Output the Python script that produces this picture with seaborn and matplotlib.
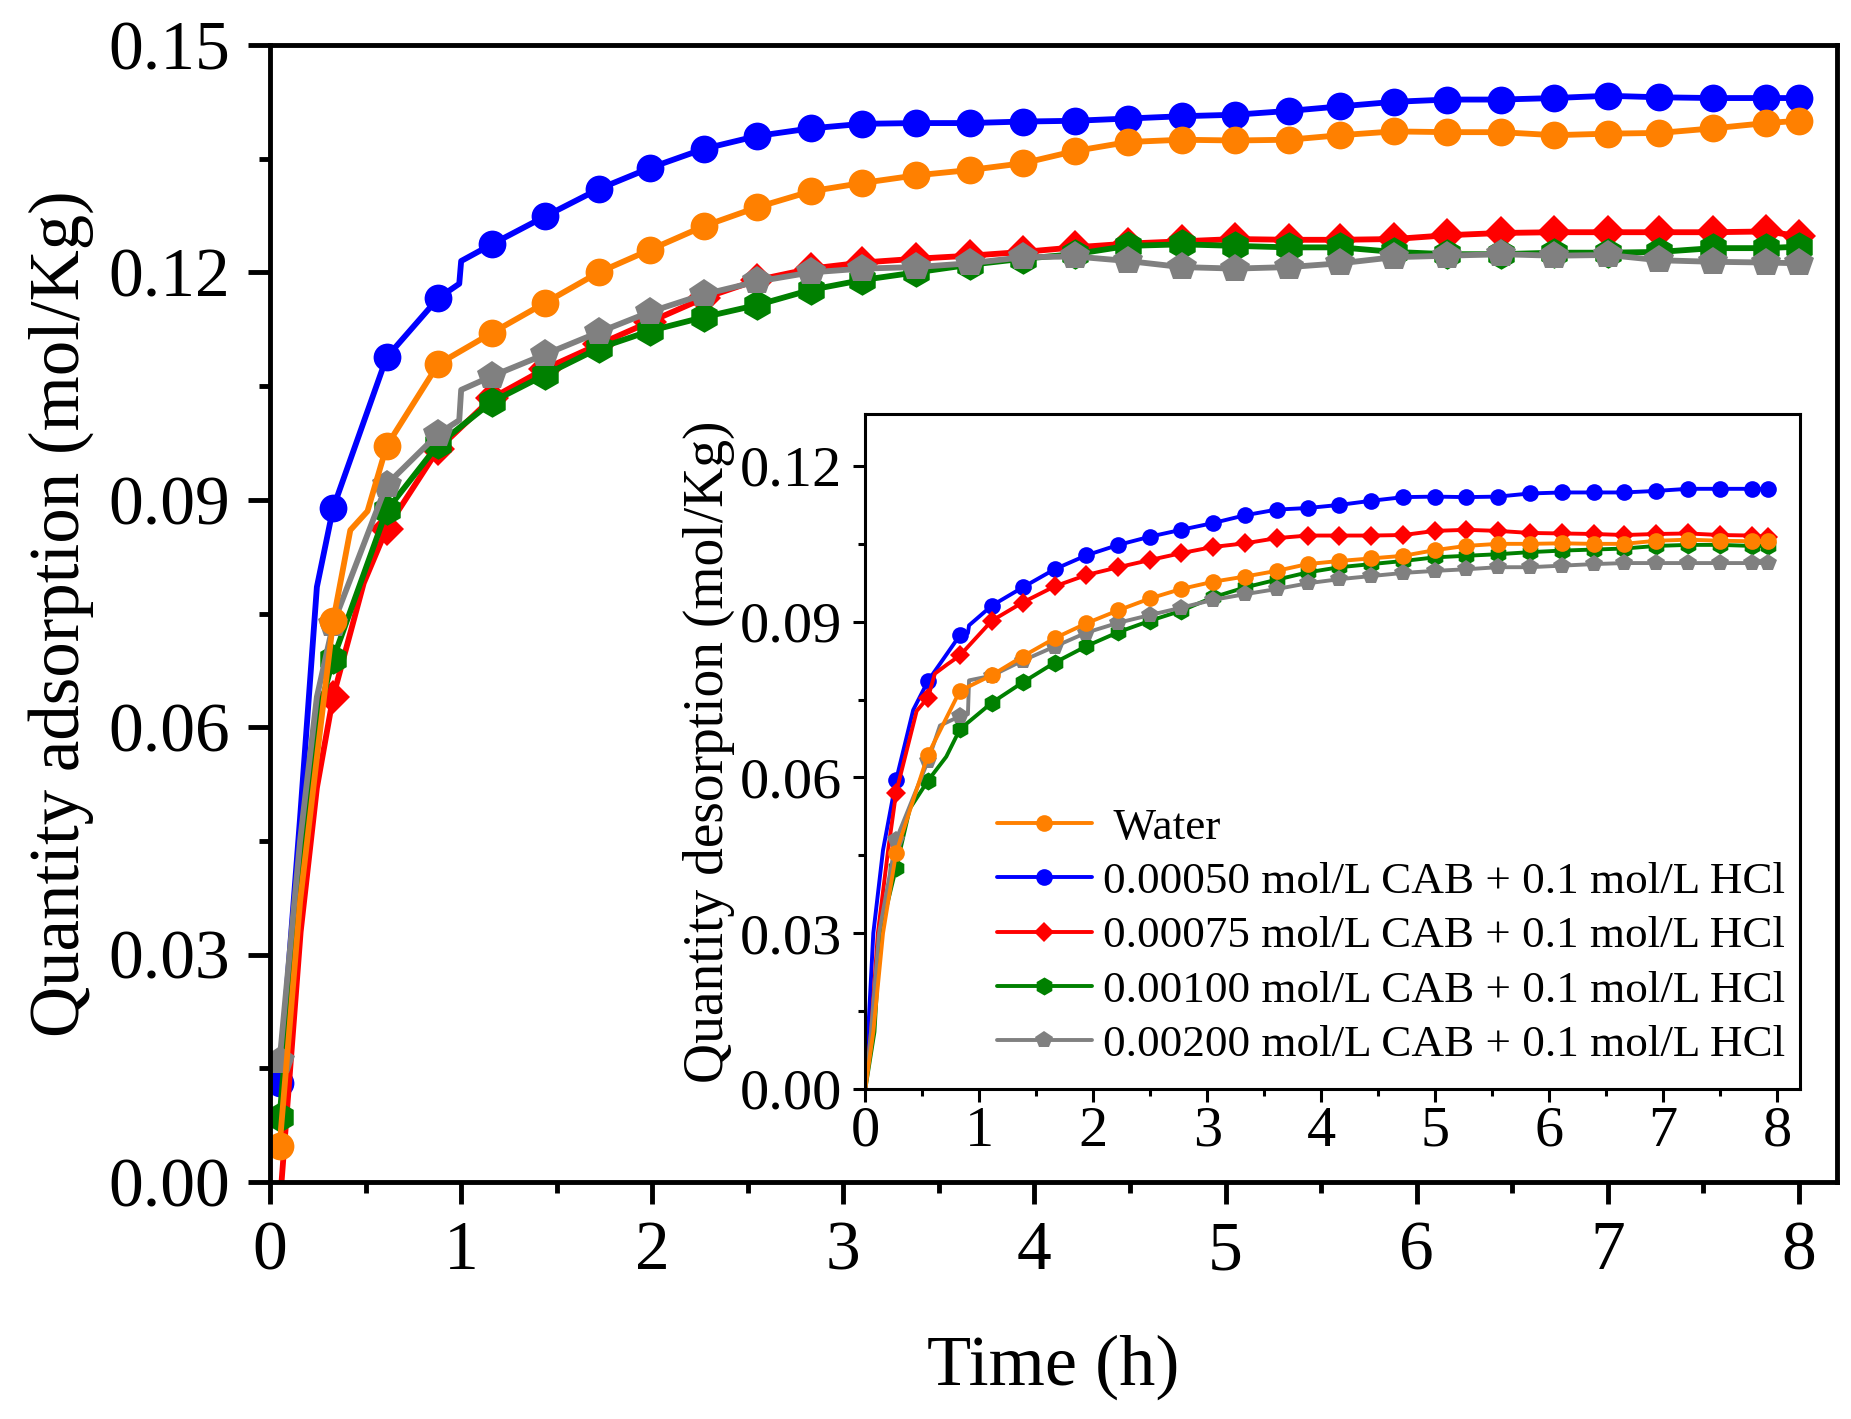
import matplotlib
matplotlib.use("Agg")
import matplotlib.pyplot as plt
from matplotlib.ticker import MultipleLocator, FormatStrFormatter
import seaborn as sns

sns.set_theme(style="ticks")
plt.rcParams['font.family'] = ['Liberation Serif', 'DejaVu Serif']
plt.rcParams['text.color'] = 'black'
plt.rcParams['axes.labelcolor'] = 'black'
plt.rcParams['xtick.color'] = 'black'
plt.rcParams['ytick.color'] = 'black'

# series names (legend order)
labels = [" Water",
          "0.00050 mol/L CAB + 0.1 mol/L HCl",
          "0.00075 mol/L CAB + 0.1 mol/L HCl",
          "0.00100 mol/L CAB + 0.1 mol/L HCl",
          "0.00200 mol/L CAB + 0.1 mol/L HCl"]

# ---- main plot: adsorption (marked points) ----
t_ads = [0.05, 0.33, 0.61, 0.88, 1.16, 1.44, 1.72, 1.99, 2.27, 2.55, 2.83, 3.10, 3.38, 3.66, 3.94,
         4.21, 4.49, 4.77, 5.05, 5.33, 5.60, 5.88, 6.16, 6.44, 6.72, 7.00, 7.27, 7.55, 7.83, 8.00]
ads_water = [0.0048, 0.074, 0.0971, 0.1079, 0.112, 0.116, 0.120, 0.123, 0.1261, 0.1286, 0.1307, 0.1318,
             0.1328, 0.1335, 0.1344, 0.136, 0.1372, 0.1375, 0.1374, 0.1375, 0.1381, 0.1386, 0.1385,
             0.1385, 0.1381, 0.1383, 0.1384, 0.139, 0.1397, 0.140]
ads_050 = [0.013, 0.0889, 0.1088, 0.1166, 0.1237, 0.1274, 0.131, 0.1338, 0.1363, 0.138, 0.139, 0.1396,
           0.1397, 0.1397, 0.1399, 0.140, 0.1403, 0.1406, 0.1408, 0.1413, 0.1419, 0.1425, 0.1428,
           0.1428, 0.143, 0.1433, 0.1431, 0.143, 0.143, 0.143]
ads_075 = [-0.003, 0.064, 0.0862, 0.0967, 0.1034, 0.1073, 0.1105, 0.1135, 0.1166, 0.119, 0.1205, 0.1213,
           0.1218, 0.1222, 0.1227, 0.1233, 0.1238, 0.1241, 0.1244, 0.1243, 0.1243, 0.1244, 0.1249,
           0.1252, 0.1253, 0.1253, 0.1253, 0.1253, 0.1254, 0.1248]
ads_100 = [0.0086, 0.069, 0.0886, 0.0973, 0.1029, 0.1065, 0.11, 0.1123, 0.1141, 0.1157, 0.1177, 0.119,
           0.12, 0.121, 0.1218, 0.1224, 0.1235, 0.1237, 0.1235, 0.1233, 0.1233, 0.1227, 0.1224,
           0.1224, 0.1226, 0.1226, 0.1227, 0.1232, 0.1232, 0.1234]
ads_200 = [0.016, 0.0736, 0.092, 0.0987, 0.1063, 0.1092, 0.1121, 0.1148, 0.1171, 0.1188, 0.12, 0.1205,
           0.1207, 0.1212, 0.122, 0.1221, 0.1215, 0.1207, 0.1205, 0.1207, 0.1212, 0.122, 0.1222,
           0.1224, 0.1222, 0.1223, 0.1216, 0.1214, 0.1213, 0.1212]

# unmarked line points between markers (main)
ads_water_xt = [0.157, 0.245, 0.42, 0.51]
ads_water_xq = [0.037, 0.056, 0.086, 0.0885]
ads_050_xt = [0.157, 0.245, 0.99, 1.0]
ads_050_xq = [0.048, 0.0785, 0.1185, 0.1215]
ads_075_xt = [0.06, 0.16, 0.245, 0.49]
ads_075_xq = [0.0, 0.033, 0.052, 0.079]
ads_100_xt = [0.157, 0.245]
ads_100_xq = [0.040, 0.061]
ads_200_xt = [0.157, 0.245, 0.99, 1.0]
ads_200_xq = [0.045, 0.064, 0.1005, 0.1045]

# ---- inset: desorption (marked points) ----
t_des = [0.27, 0.55, 0.83, 1.11, 1.38, 1.66, 1.94, 2.22, 2.50, 2.77, 3.05, 3.33, 3.61, 3.88, 4.16,
         4.44, 4.72, 5.00, 5.27, 5.55, 5.83, 6.11, 6.39, 6.66, 6.94, 7.22, 7.50, 7.78, 7.92]
des_water = [0.0455, 0.0644, 0.0767, 0.0797, 0.0833, 0.0868, 0.0897, 0.0922, 0.0945, 0.0963, 0.0977,
             0.0987, 0.0998, 0.1011, 0.1017, 0.1022, 0.1027, 0.1038, 0.1046, 0.105, 0.105, 0.1051,
             0.105, 0.105, 0.1056, 0.1058, 0.1056, 0.1055, 0.1055]
des_050 = [0.0595, 0.0786, 0.0874, 0.0931, 0.0966, 0.1001, 0.1028, 0.1048, 0.1064, 0.1077, 0.109,
           0.1105, 0.1116, 0.1119, 0.1125, 0.1133, 0.114, 0.1141, 0.114, 0.1141, 0.1147, 0.1149,
           0.1149, 0.1149, 0.1152, 0.1156, 0.1156, 0.1156, 0.1156]
des_075 = [0.0571, 0.0754, 0.0835, 0.0902, 0.0937, 0.0968, 0.099, 0.1005, 0.1019, 0.1032, 0.1044,
           0.1051, 0.1061, 0.1066, 0.1066, 0.1066, 0.1067, 0.1075, 0.1077, 0.1075, 0.1071, 0.107,
           0.1069, 0.1067, 0.1069, 0.107, 0.1067, 0.1066, 0.1063]
des_100 = [0.0426, 0.0594, 0.0693, 0.0744, 0.0783, 0.0821, 0.0853, 0.088, 0.0902, 0.0921, 0.0947,
           0.0966, 0.0981, 0.0995, 0.1005, 0.1011, 0.1017, 0.1024, 0.1027, 0.103, 0.1034, 0.1037,
           0.1039, 0.1041, 0.1046, 0.1048, 0.1048, 0.1046, 0.1046]
des_200 = [0.048, 0.0632, 0.0718, 0.0796, 0.0825, 0.0852, 0.0879, 0.0898, 0.0913, 0.0927, 0.0942,
           0.0953, 0.0963, 0.0974, 0.0982, 0.0988, 0.0994, 0.0998, 0.1001, 0.1005, 0.1005, 0.1008,
           0.1011, 0.1013, 0.1013, 0.1013, 0.1013, 0.1013, 0.1013]

# unmarked line points (inset)
des_water_xt = [0.0, 0.07, 0.155]
des_water_xq = [0.0, 0.011, 0.030]
des_050_xt = [0.0, 0.025, 0.07, 0.155, 0.42, 0.90, 0.91]
des_050_xq = [0.0, 0.011, 0.030, 0.046, 0.073, 0.0878, 0.0893]
des_075_xt = [0.0, 0.05, 0.11, 0.2, 0.45, 0.61, 0.72]
des_075_xq = [0.0, 0.011, 0.030, 0.046, 0.0728, 0.080, 0.0818]
des_100_xt = [0.0, 0.08, 0.13, 0.39, 0.71]
des_100_xq = [0.0, 0.011, 0.030, 0.054, 0.064]
des_200_xt = [0.0, 0.05, 0.12, 0.655, 0.90, 0.91]
des_200_xq = [0.0, 0.011, 0.030, 0.070, 0.0722, 0.0787]

colors = ["#FF8000", "#0000FF", "#FF0000", "#008000", "#808080"]
markers = ["o", "o", "D", "h", "p"]


def draw(ax, t, q, xt, xq, color, marker, ms, lw, label=None):
    # merge marked and unmarked points, put markers only on the read-off points
    pts = sorted([(a, b, True) for a, b in zip(t, q)] + [(a, b, False) for a, b in zip(xt, xq)])
    xs = [p[0] for p in pts]
    ys = [p[1] for p in pts]
    marks = [i for i, p in enumerate(pts) if p[2]]
    sns.lineplot(x=xs, y=ys, ax=ax, color=color, marker=marker, markersize=ms,
                 markeredgewidth=0, linewidth=lw, markevery=marks, sort=False,
                 estimator=None, label=label)


def style_axes(ax, spine_w, major_len, minor_len, tick_fs, xpad, ypad):
    for s in ax.spines.values():
        s.set_visible(True)
        s.set_linewidth(spine_w)
        s.set_color("black")
    ax.xaxis.set_major_locator(MultipleLocator(1))
    ax.xaxis.set_minor_locator(MultipleLocator(0.5))
    ax.xaxis.set_major_formatter(FormatStrFormatter('%d'))
    ax.yaxis.set_major_locator(MultipleLocator(0.03))
    ax.yaxis.set_minor_locator(MultipleLocator(0.015))
    ax.yaxis.set_major_formatter(FormatStrFormatter('%.2f'))
    ax.tick_params(which='both', direction='out', width=spine_w, color='black',
                   labelcolor='black', top=False, right=False, left=True, bottom=True)
    ax.tick_params(which='major', length=major_len, labelsize=tick_fs)
    ax.tick_params(which='minor', length=minor_len)
    ax.tick_params(axis='x', which='major', pad=xpad)
    ax.tick_params(axis='y', which='major', pad=ypad)
    ax.grid(False)


fig = plt.figure(figsize=(18.51, 14.19), dpi=100)
fig.patch.set_facecolor("white")

ax = fig.add_axes([0.1459, 0.167, 0.8466, 0.8013])
main_series = [(ads_050, ads_050_xt, ads_050_xq, 1),
               (ads_075, ads_075_xt, ads_075_xq, 2),
               (ads_100, ads_100_xt, ads_100_xq, 3),
               (ads_200, ads_200_xt, ads_200_xq, 4),
               (ads_water, ads_water_xt, ads_water_xq, 0)]
for q, xt, xq, k in main_series:
    ms = 20 if markers[k] == "o" else (17 if markers[k] == "D" else 22)
    draw(ax, t_ads, q, xt, xq, colors[k], markers[k], ms, 4.2)
if ax.get_legend():
    ax.get_legend().remove()
ax.set_xlim(0, 8.2)
ax.set_ylim(0, 0.15)
style_axes(ax, 3.5, 16, 8, 50, 12, 13)
ax.set_xlabel("Time (h)", fontsize=52, labelpad=36, color='black')
ax.set_ylabel("Quantity adsorption (mol/Kg)", fontsize=51, labelpad=10, color='black')

ax_in = fig.add_axes([0.4675, 0.2326, 0.5049, 0.4756])
ax_in.set_facecolor("white")
inset_series = [(des_050, des_050_xt, des_050_xq, 1),
                (des_075, des_075_xt, des_075_xq, 2),
                (des_100, des_100_xt, des_100_xq, 3),
                (des_200, des_200_xt, des_200_xq, 4),
                (des_water, des_water_xt, des_water_xq, 0)]
for q, xt, xq, k in inset_series:
    ms = 12 if markers[k] == "o" else (10.5 if markers[k] == "D" else 13)
    draw(ax_in, t_des, q, xt, xq, colors[k], markers[k], ms, 2.8, label=labels[k])
ax_in.set_xlim(0, 8.2)
ax_in.set_ylim(0, 0.13)
style_axes(ax_in, 2.2, 9, 5, 42, 3, 8)
ax_in.set_ylabel("Quantity desorption (mol/Kg)", fontsize=40, labelpad=3, color='black')
ax_in.set_xlabel("")

handles, labs = ax_in.get_legend_handles_labels()
order = [labs.index(l) for l in labels]
leg = ax_in.legend([handles[i] for i in order], [labs[i] for i in order],
                   loc='lower right', bbox_to_anchor=(0.984, 0.036), frameon=False,
                   fontsize=32.5, handlelength=2.1, handletextpad=0.25, labelspacing=0.3,
                   borderpad=0, borderaxespad=0)
for txt in leg.get_texts():
    txt.set_color('black')

fig.savefig("out.png", dpi=100, facecolor="white")
